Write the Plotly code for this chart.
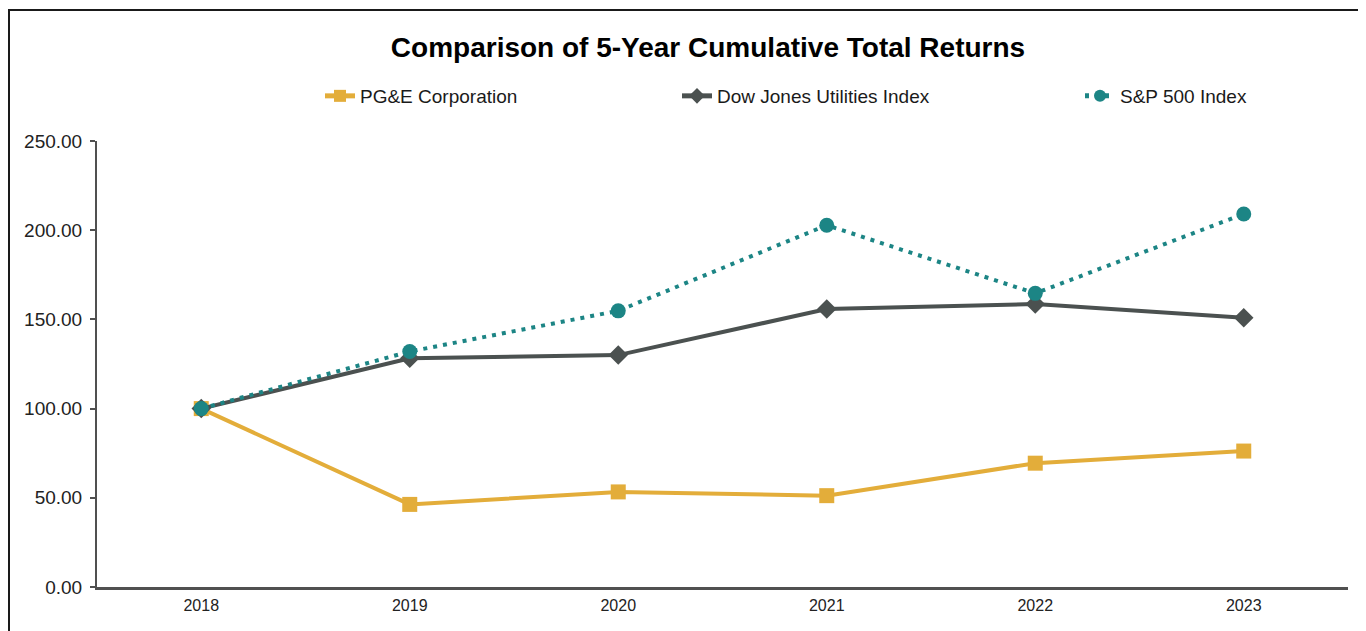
import plotly.graph_objects as go

years = ["2018", "2019", "2020", "2021", "2022", "2023"]
pge = [100.00, 46.3, 53.3, 51.2, 69.4, 76.2]
dju = [100.00, 128.2, 130.0, 155.8, 158.6, 150.9]
sp500 = [100.00, 132.0, 154.8, 202.8, 164.6, 209.1]
yticks = [0, 50, 100, 150, 200, 250]

GOLD = "#E3AD3A"
GRAY = "#4B5150"
TEAL = "#1C8585"
FONT = "Liberation Sans, Arial"

fig = go.Figure()
fig.add_trace(go.Scatter(
    x=years, y=pge, name="PG&E Corporation", mode="lines+markers",
    line=dict(color=GOLD, width=4),
    marker=dict(symbol="square", size=15, color=GOLD),
    legend="legend", showlegend=True))
fig.add_trace(go.Scatter(
    x=years, y=dju, name="Dow Jones Utilities Index", mode="lines+markers",
    line=dict(color=GRAY, width=4),
    marker=dict(symbol="diamond", size=15, color=GRAY),
    legend="legend2", showlegend=True))
fig.add_trace(go.Scatter(
    x=years, y=sp500, name="S&P 500 Index", mode="lines+markers",
    line=dict(color=TEAL, width=4, dash="4px,6px"),
    marker=dict(symbol="circle", size=15, color=TEAL),
    legend="legend3", showlegend=True))

# figure is drawn with an 8px page offset (body margin)
OFF = 8
W, H = 1366, 631
L, R, T, B = 89, 26, 133, 52
pw, ph = W - L - R, H - T - B


def px(xpage):
    return (xpage - OFF - L) / pw


def py(ypage):
    return (H - B - (ypage - OFF)) / ph


leg_common = dict(orientation="h", yanchor="middle", xanchor="left",
                  font=dict(family=FONT, size=19, color="#1a1a1a"),
                  bgcolor="rgba(0,0,0,0)", itemsizing="constant")

fig.update_layout(
    width=W, height=H,
    showlegend=True,
    margin=dict(l=L, r=R, t=T, b=B),
    paper_bgcolor="white", plot_bgcolor="white",
    title=dict(text="<b>Comparison of 5-Year Cumulative Total Returns</b>",
               x=(708 - OFF) / W, xref="container",
               xanchor="center", y=1 - (47 - OFF) / H, yref="container", yanchor="middle",
               font=dict(family=FONT, size=28, color="#000000")),
    legend=dict(x=px(320), y=py(96), **leg_common),
    legend2=dict(x=px(677), y=py(96), **leg_common),
    legend3=dict(x=px(1080), y=py(96), **leg_common),
    xaxis=dict(type="category", range=[-0.5, 5.5], showgrid=False,
               showline=True, linecolor="#505050", linewidth=3,
               ticks="", tickfont=dict(family=FONT, size=16, color="#222222"),
               ticklabelstandoff=2,
               fixedrange=True, zeroline=False),
    yaxis=dict(range=[0, 250], tickvals=yticks, tickformat=".2f",
               showgrid=False, showline=True, linecolor="#505050", linewidth=2,
               ticks="outside", ticklen=5, tickwidth=2, tickcolor="#505050",
               ticklabelstandoff=4,
               tickfont=dict(family=FONT, size=19, color="#222222"),
               zeroline=False, fixedrange=True),
    shapes=[dict(type="rect", xref="paper", yref="paper",
                 x0=px(9), x1=px(1390), y0=py(660), y1=py(10),
                 line=dict(color="#1a1a1a", width=2), fillcolor="rgba(0,0,0,0)",
                 layer="below")],
)

fig.write_html("out.html")
